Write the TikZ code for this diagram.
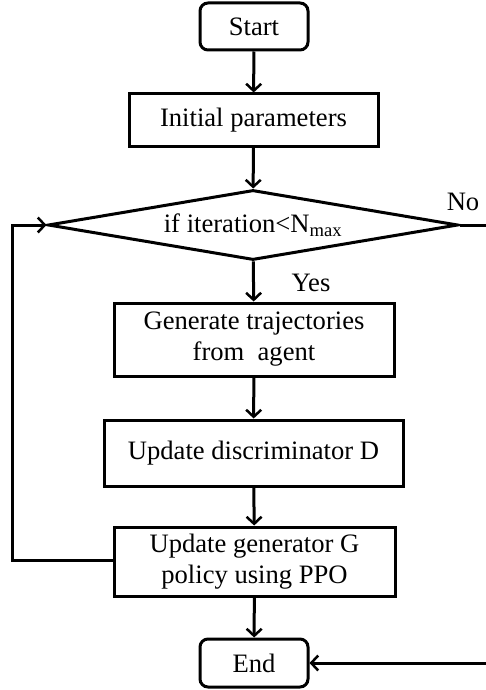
\documentclass[tikz,border=0pt]{standalone}
\usepackage{fontspec}
\setmainfont{Liberation Serif}
\usetikzlibrary{shapes.geometric,arrows.meta}

\tikzset{
  base/.style={draw=black, line width=3pt, inner sep=0pt, align=center,
    font=\fontsize{26.6}{31}\selectfont},
  proc/.style={base, rectangle},
  term/.style={base, rectangle, rounded corners=8pt},
  decide/.style={base, diamond, aspect=5.86},
  flow/.style={line width=3pt, -{Straight Barb[length=7pt,width=15pt,line width=2.5pt]}},
  link/.style={line width=3pt},
  lbl/.style={font=\fontsize{26.6}{31}\selectfont, inner sep=0pt}
}

\begin{document}
\begin{tikzpicture}[x=1pt, y=-1pt]
  \useasboundingbox (0,0) rectangle (485,690);

  % process steps
  \node[term, minimum width=108pt, minimum height=47pt] (start) at (254,26.5) {Start};
  \node[proc, minimum width=249pt, minimum height=52pt] (init) at (253.5,120) {Initial parameters};
  \node[decide, minimum width=410pt, minimum height=70pt] (cond) at (253,225)
    {if iteration<N\textsubscript{max}};
  \node[proc, minimum width=280pt, minimum height=73pt] (gen) at (254,339.5)
    {Generate trajectories\\from\ \ agent};
  \node[proc, minimum width=299pt, minimum height=66pt] (disc) at (253.5,453)
    {Update discriminator D};
  \node[proc, minimum width=281pt, minimum height=69pt] (upd) at (254.5,561.5)
    {Update generator G\\policy using PPO};
  \node[term, minimum width=108pt, minimum height=48pt] (stop) at (254,663) {End};

  % branch labels
  \node[lbl] (yes) at (311,283) {Yes};
  \node[lbl] (no) at (463,202) {No};

  % turning points of the loops
  \coordinate (fbBot) at (12,560);
  \coordinate (fbTop) at (12,225);
  \coordinate (noTop) at (487,225);
  \coordinate (noBot) at (487,663);

  % main flow
  \draw[flow] (start) -- (init);
  \draw[flow] (init) -- (cond);
  \draw[flow] (cond) -- (gen);
  \draw[flow] (gen) -- (disc);
  \draw[flow] (disc) -- (upd);
  \draw[flow] (upd) -- (stop);

  % iteration loop back to the test
  \draw[flow] (upd.west |- fbBot) -- (fbBot) -- (fbTop) -- (cond.west);

  % exit branch
  \draw[flow] (cond.east) -- (noTop) -- (noBot) -- (stop.east);
\end{tikzpicture}
\end{document}
